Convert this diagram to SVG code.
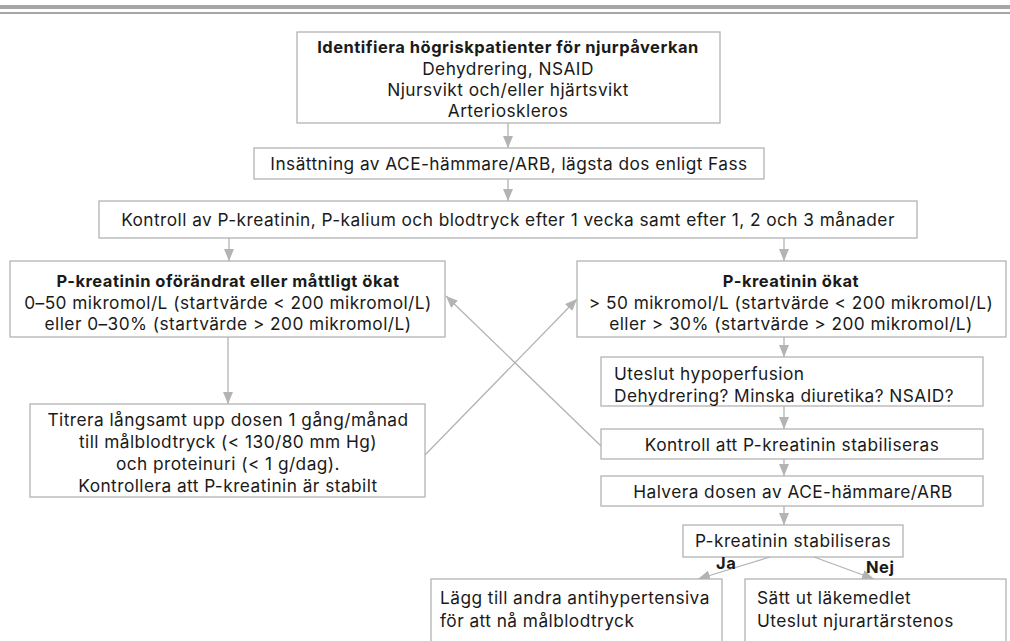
<svg xmlns="http://www.w3.org/2000/svg" width="1010" height="641" viewBox="0 0 1010 641">
<style>
.box{fill:#fff;stroke:#b3b3b3;stroke-width:1.3}
.t{font-family:Inter,"Open Sans",sans-serif;font-size:17.3px;letter-spacing:0.45px;fill:#1a1a1a}
.c{text-anchor:middle}
.b{font-weight:bold;font-size:16.5px;letter-spacing:0.5px}
.ln{stroke:#b3b3b3;stroke-width:1.3;fill:none}
</style>
<defs>
<marker id="ah" viewBox="0 0 12 10" refX="12" refY="5" markerWidth="12" markerHeight="10" markerUnits="userSpaceOnUse" orient="auto">
<path d="M0,0 L12,5 L0,10 Z" fill="#b3b3b3"/>
</marker>
</defs>
<rect x="0" y="5" width="1010" height="4" fill="#a6a6a6"/>
<rect x="0" y="12" width="1010" height="2" fill="#a6a6a6"/>

<g id="connectors">
<line class="ln" x1="508" y1="123" x2="508" y2="148" marker-end="url(#ah)"/>
<line class="ln" x1="508" y1="179" x2="508" y2="201" marker-end="url(#ah)"/>
<line class="ln" x1="229" y1="238" x2="229" y2="261" marker-end="url(#ah)"/>
<line class="ln" x1="784" y1="238" x2="784" y2="261" marker-end="url(#ah)"/>
<line class="ln" x1="228" y1="337" x2="228" y2="404" marker-end="url(#ah)"/>
<line class="ln" x1="784" y1="337" x2="784" y2="357" marker-end="url(#ah)"/>
<line class="ln" x1="784" y1="406" x2="784" y2="429" marker-end="url(#ah)"/>
<line class="ln" x1="784" y1="459" x2="784" y2="476" marker-end="url(#ah)"/>
<line class="ln" x1="784" y1="506" x2="784" y2="525" marker-end="url(#ah)"/>
<line class="ln" x1="425" y1="455" x2="577" y2="299" marker-end="url(#ah)"/>
<line class="ln" x1="601" y1="446" x2="446" y2="296" marker-end="url(#ah)"/>
<line class="ln" x1="770" y1="557" x2="698" y2="579" marker-end="url(#ah)"/>
<line class="ln" x1="814" y1="557" x2="874" y2="579" marker-end="url(#ah)"/>
</g>

<g id="n1">
<rect class="box" x="297" y="32" width="423" height="91"/>
<text class="t c b" x="508" y="53">Identifiera högriskpatienter för njurpåverkan</text>
<text class="t c" x="508" y="75">Dehydrering, NSAID</text>
<text class="t c" x="508" y="96">Njursvikt och/eller hjärtsvikt</text>
<text class="t c" x="508" y="117">Arterioskleros</text>
</g>
<g id="n2">
<rect class="box" x="254" y="148" width="510" height="31"/>
<text class="t c" x="509" y="170">Insättning av ACE-hämmare/ARB, lägsta dos enligt Fass</text>
</g>
<g id="n3">
<rect class="box" x="99" y="201" width="818" height="37"/>
<text class="t c" x="508" y="226">Kontroll av P-kreatinin, P-kalium och blodtryck efter 1 vecka samt efter 1, 2 och 3 månader</text>
</g>
<g id="n4">
<rect class="box" x="10" y="261" width="435" height="76"/>
<text class="t c b" x="228" y="287">P-kreatinin oförändrat eller måttligt ökat</text>
<text class="t c" x="228" y="309">0–50 mikromol/L (startvärde &lt; 200 mikromol/L)</text>
<text class="t c" x="228" y="330">eller 0–30% (startvärde &gt; 200 mikromol/L)</text>
</g>
<g id="n5">
<rect class="box" x="577" y="261" width="429" height="76"/>
<text class="t c b" x="791" y="287">P-kreatinin ökat</text>
<text class="t c" x="791" y="309">&gt; 50 mikromol/L (startvärde &lt; 200 mikromol/L)</text>
<text class="t c" x="791" y="330">eller &gt; 30% (startvärde &gt; 200 mikromol/L)</text>
</g>
<g id="n6">
<rect class="box" x="30" y="404" width="395" height="93"/>
<text class="t c" x="228" y="426">Titrera långsamt upp dosen 1 gång/månad</text>
<text class="t c" x="228" y="448">till målblodtryck (&lt; 130/80 mm Hg)</text>
<text class="t c" x="228" y="470">och proteinuri (&lt; 1 g/dag).</text>
<text class="t c" x="228" y="492">Kontrollera att P-kreatinin är stabilt</text>
</g>
<g id="n7">
<rect class="box" x="601" y="357" width="382" height="49"/>
<text class="t" x="614" y="380">Uteslut hypoperfusion</text>
<text class="t" x="614" y="402">Dehydrering? Minska diuretika? NSAID?</text>
</g>
<g id="n8">
<rect class="box" x="601" y="429" width="382" height="30"/>
<text class="t c" x="792" y="451">Kontroll att P-kreatinin stabiliseras</text>
</g>
<g id="n9">
<rect class="box" x="601" y="476" width="382" height="30"/>
<text class="t c" x="793" y="498">Halvera dosen av ACE-hämmare/ARB</text>
</g>
<g id="n10">
<rect class="box" x="683" y="525" width="220" height="32"/>
<text class="t c" x="793" y="547">P-kreatinin stabiliseras</text>
</g>
<g id="lbl">
<text class="t b" x="716" y="569">Ja</text>
<text class="t b" x="866" y="573">Nej</text>
</g>
<g id="n11">
<rect class="box" x="431" y="579" width="291" height="70"/>
<text class="t" x="440" y="604">Lägg till andra antihypertensiva</text>
<text class="t" x="440" y="627">för att nå målblodtryck</text>
</g>
<g id="n12">
<rect class="box" x="745" y="579" width="261" height="70"/>
<text class="t" x="757" y="604">Sätt ut läkemedlet</text>
<text class="t" x="757" y="627">Uteslut njurartärstenos</text>
</g>
</svg>
